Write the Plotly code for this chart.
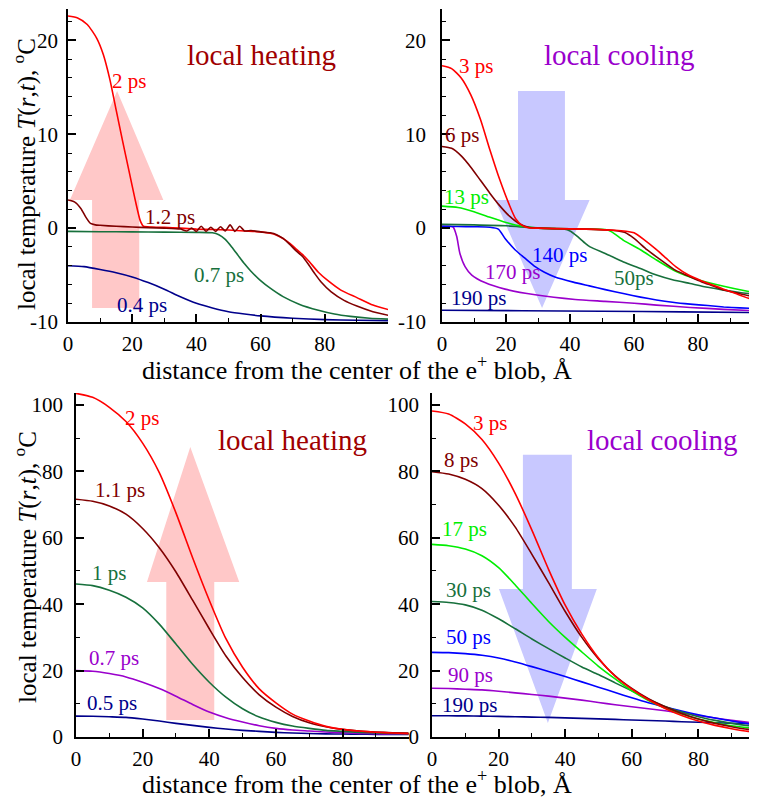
import plotly.graph_objects as go

# ---------------- data: top-left (local heating, early times) ----------------
TL_2PS_X = [0, 3, 6, 9, 11, 13, 15, 17, 19, 21, 22.5, 23.5, 26, 30, 35, 40, 45, 50, 55, 60, 63, 65, 67, 69, 71, 73, 75, 78, 81, 85, 90, 95, 100]
TL_2PS_Y = [22.6, 22.4, 21.7, 20.2, 18.5, 15.9, 12.6, 9.3, 6.1, 2.9, 0.8, 0.2, 0.12, 0.08, 0.0, -0.1, -0.15, -0.2, -0.3, -0.4, -0.55, -0.75, -1.1, -1.6, -2.2, -2.8, -3.5, -4.7, -5.6, -6.6, -7.4, -8.2, -8.7]
TL_12PS_X = [0, 2, 4, 5.5, 7, 8.5, 10, 15, 20, 25, 30, 35, 37, 38.5, 40, 41.5, 43, 44.5, 46, 47.5, 49, 50.5, 52, 53.5, 55, 57, 60, 63, 65, 67, 69, 71, 73, 75, 77, 79, 82, 86, 90, 95, 100]
TL_12PS_Y = [3.0, 2.8, 2.1, 1.2, 0.5, 0.35, 0.3, 0.2, 0.12, 0.05, 0.0, -0.1, -0.3, 0.0, -0.35, 0.2, -0.35, 0.1, -0.35, 0.15, -0.3, 0.35, -0.35, 0.2, -0.3, -0.25, -0.4, -0.5, -0.7, -1.1, -1.7, -2.4, -3.0, -3.9, -4.9, -5.8, -6.8, -7.7, -8.3, -8.9, -9.3]
TL_07PS_X = [0, 10, 20, 30, 40, 45, 47, 49, 51, 53, 55, 57, 60, 63, 67, 72, 78, 83, 88, 94, 100]
TL_07PS_Y = [-0.35, -0.38, -0.4, -0.42, -0.45, -0.5, -0.7, -1.2, -2.0, -2.9, -3.8, -4.6, -5.6, -6.4, -7.3, -8.1, -8.75, -9.15, -9.4, -9.6, -9.7]
TL_04PS_X = [0, 5, 10, 15, 20, 25, 30, 35, 40, 45, 50, 55, 60, 70, 80, 90, 100]
TL_04PS_Y = [-4.0, -4.1, -4.4, -4.75, -5.2, -5.8, -6.5, -7.3, -8.0, -8.5, -8.9, -9.15, -9.35, -9.6, -9.75, -9.82, -9.85]

# ---------------- data: top-right (local cooling, early times) ----------------
TR_3PS_X = [0, 3, 6, 9, 12, 15, 18, 21, 23, 25, 27, 30, 35, 45, 55, 58, 60, 63, 67, 70, 73, 77, 81, 85, 88, 92, 96, 100]
TR_3PS_Y = [17.3, 17.0, 16.0, 14.2, 11.6, 8.3, 5.2, 2.5, 1.0, 0.3, 0.05, 0.0, -0.05, -0.1, -0.25, -0.35, -0.5, -1.2, -2.3, -3.2, -4.1, -5.0, -5.6, -6.1, -6.5, -7.0, -7.5, -7.9]
TR_6PS_X = [0, 3, 6, 9, 12, 15, 18, 21, 24, 27, 30, 35, 45, 52, 55, 57, 60, 64, 68, 73, 77, 81, 85, 88, 92, 96, 100]
TR_6PS_Y = [8.7, 8.5, 7.7, 6.5, 5.1, 3.7, 2.4, 1.3, 0.5, 0.1, 0.0, -0.05, -0.1, -0.2, -0.3, -0.45, -1.1, -2.3, -3.3, -4.5, -5.1, -5.7, -6.2, -6.6, -6.9, -7.2, -7.4]
TR_13PS_X = [0, 5, 10, 15, 20, 25, 30, 35, 45, 51, 53, 56.7, 62, 67, 73, 80, 88, 95, 100]
TR_13PS_Y = [2.35, 2.2, 1.75, 1.15, 0.6, 0.2, 0.0, -0.05, -0.1, -0.15, -0.4, -1.3, -2.3, -3.4, -4.6, -5.5, -6.2, -6.7, -7.0]
TR_50PS_X = [0, 10, 20, 28, 35, 38, 40, 42, 44.7, 46.25, 51, 56.7, 62, 67, 72, 77.5, 83, 88, 93, 100]
TR_50PS_Y = [0.4, 0.35, 0.25, 0.05, -0.05, -0.1, -0.3, -0.8, -1.6, -2.0, -2.7, -3.6, -4.3, -5.0, -5.5, -5.9, -6.3, -6.6, -6.85, -7.1]
TR_140PS_X = [0, 5, 10, 15, 17.6, 19.7, 22.8, 25.9, 29.1, 32, 35.3, 41, 46, 51, 57, 62, 67, 72, 77.5, 83, 88, 93, 100]
TR_140PS_Y = [0.2, 0.18, 0.15, 0.1, -0.1, -1.1, -2.3, -3.2, -4.1, -4.7, -5.2, -5.75, -6.15, -6.55, -7.0, -7.35, -7.65, -7.9, -8.1, -8.25, -8.4, -8.5, -8.6]
TR_170PS_X = [0, 2, 3.5, 4.6, 5.6, 7.2, 9.3, 13.4, 19.7, 29.1, 41.6, 50.9, 60, 67, 77.5, 87.9, 100]
TR_170PS_Y = [0.2, 0.2, 0.1, -0.9, -2.7, -4.1, -5.0, -5.8, -6.5, -7.1, -7.6, -7.8, -8.0, -8.2, -8.45, -8.65, -8.85]
TR_190PS_X = [0, 25, 50, 75, 100]
TR_190PS_Y = [-8.75, -8.8, -8.85, -8.92, -9.0]

# ---------------- data: bottom panels (common distance grid) ----------------
BX = [0, 5, 10, 15, 20, 25, 30, 35, 40, 45, 50, 55, 60, 65, 70, 75, 80, 85, 90, 95, 100]
BL_2PS = [103.5, 102.3, 99.3, 95.0, 88.5, 79.6, 67.5, 54.0, 41.2, 29.6, 21.0, 14.5, 10.3, 6.9, 4.8, 3.2, 2.3, 1.8, 1.45, 1.2, 1.0]
BL_11PS = [71.6, 71.0, 69.6, 67.1, 62.8, 57.0, 49.7, 41.2, 32.6, 24.4, 17.9, 12.7, 9.0, 6.2, 4.3, 3.1, 2.3, 1.8, 1.5, 1.3, 1.2]
BL_1PS = [46.1, 45.6, 44.2, 42.1, 38.9, 34.0, 28.0, 21.9, 16.5, 12.0, 8.5, 6.0, 4.4, 3.3, 2.6, 2.0, 1.7, 1.4, 1.2, 1.1, 1.0]
BL_07PS = [20.0, 19.8, 19.1, 18.1, 16.5, 14.6, 12.3, 9.8, 7.5, 5.8, 4.5, 3.4, 2.6, 2.1, 1.8, 1.5, 1.3, 1.1, 1.0, 0.9, 0.9]
BL_05PS = [6.3, 6.25, 6.1, 5.9, 5.4, 4.8, 4.1, 3.5, 2.9, 2.4, 2.0, 1.7, 1.4, 1.2, 1.05, 0.95, 0.9, 0.85, 0.8, 0.8, 0.8]

BR_3PS = [98.2, 97.3, 94.3, 89.6, 82.5, 73.3, 62.3, 50.5, 39.7, 31.0, 23.8, 18.3, 14.4, 11.2, 8.6, 6.5, 4.8, 3.5, 2.5, 1.7, 1.3]
BR_8PS = [79.9, 79.2, 77.6, 74.8, 69.8, 63.2, 55.0, 46.5, 37.8, 30.0, 23.5, 18.4, 14.6, 11.5, 9.1, 7.1, 5.4, 4.1, 3.1, 2.3, 1.9]
BR_17PS = [58.0, 57.6, 56.6, 54.6, 51.0, 45.8, 40.2, 34.8, 30.0, 25.6, 21.3, 17.5, 13.9, 11.0, 8.7, 6.9, 5.4, 4.3, 3.4, 2.8, 2.4]
BR_30PS = [40.8, 40.5, 39.8, 38.2, 35.6, 32.6, 29.5, 26.6, 23.8, 21.1, 18.8, 16.3, 13.9, 11.4, 9.2, 7.5, 6.1, 5.0, 4.1, 3.4, 2.9]
BR_50PS = [25.5, 25.4, 25.1, 24.6, 23.8, 22.6, 21.2, 19.7, 18.2, 16.6, 15.0, 13.4, 11.8, 10.3, 9.0, 7.8, 6.7, 5.7, 4.8, 4.0, 3.5]
BR_90PS = [14.7, 14.6, 14.4, 14.2, 13.8, 13.3, 12.8, 12.3, 11.7, 11.1, 10.4, 9.7, 9.1, 8.5, 7.9, 7.2, 6.5, 5.7, 5.0, 4.4, 3.9]
BR_190PS = [6.4, 6.4, 6.35, 6.3, 6.2, 6.1, 6.0, 5.9, 5.75, 5.6, 5.45, 5.3, 5.1, 4.95, 4.8, 4.6, 4.45, 4.3, 4.15, 4.0, 3.9]

# tick labels of the upper panels' temperature axis (plain hyphen minus)
TOP_YTICKS = [-10, 0, 10, 20]
TOP_YTICKTEXT = ["-10", "0", "10", "20"]

# colours
RED = "#ff0000"
DRED = "#800000"
DGREEN = "#17703c"
LGREEN = "#00ee00"
NAVY = "#00008b"
BLUE = "#0000ff"
PURPLE = "#9a00cc"
HEAT = "#a00000"
PINK = "#ffc8c8"
LBLUE = "#c8c8ff"
FONT = "Liberation Serif"

fig = go.Figure()


def line(xs, ys, color, xa, ya):
    fig.add_trace(go.Scatter(x=xs, y=ys, mode="lines", xaxis=xa, yaxis=ya,
                             line=dict(color=color, width=1.6, shape="spline", smoothing=0.6),
                             showlegend=False, hoverinfo="skip"))


# top-left
line(TL_04PS_X, TL_04PS_Y, NAVY, "x", "y")
line(TL_07PS_X, TL_07PS_Y, DGREEN, "x", "y")
line(TL_2PS_X, TL_2PS_Y, RED, "x", "y")
line(TL_12PS_X, TL_12PS_Y, DRED, "x", "y")
# top-right
line(TR_190PS_X, TR_190PS_Y, NAVY, "x2", "y2")
line(TR_170PS_X, TR_170PS_Y, PURPLE, "x2", "y2")
line(TR_140PS_X, TR_140PS_Y, BLUE, "x2", "y2")
line(TR_50PS_X, TR_50PS_Y, DGREEN, "x2", "y2")
line(TR_13PS_X, TR_13PS_Y, LGREEN, "x2", "y2")
line(TR_6PS_X, TR_6PS_Y, DRED, "x2", "y2")
line(TR_3PS_X, TR_3PS_Y, RED, "x2", "y2")
# bottom-left
line(BX, BL_05PS, NAVY, "x3", "y3")
line(BX, BL_07PS, PURPLE, "x3", "y3")
line(BX, BL_1PS, DGREEN, "x3", "y3")
line(BX, BL_11PS, DRED, "x3", "y3")
line(BX, BL_2PS, RED, "x3", "y3")
# bottom-right
line(BX, BR_190PS, NAVY, "x4", "y4")
line(BX, BR_90PS, PURPLE, "x4", "y4")
line(BX, BR_50PS, BLUE, "x4", "y4")
line(BX, BR_30PS, DGREEN, "x4", "y4")
line(BX, BR_17PS, LGREEN, "x4", "y4")
line(BX, BR_8PS, DRED, "x4", "y4")
line(BX, BR_3PS, RED, "x4", "y4")

# the page body adds an 8px margin, so the figure is 8px smaller and shifted
OFF = 8
W, H = 757 - OFF, 803 - OFF


def fx(px):
    return (px - OFF) / W


def fy(py):
    return 1 - (py - OFF) / H


def xax(p0, p1, rng, anchor):
    return dict(domain=[fx(p0), min(1.0, fx(p1))], range=rng, anchor=anchor, automargin=False, showline=True,
                linecolor="black", linewidth=1.5, ticks="inside", ticklen=8, tickwidth=1.5,
                tickcolor="black", tick0=0, dtick=20, showgrid=False, zeroline=False,
                minor=dict(ticks="inside", ticklen=4, tickwidth=1.2, tickcolor="black", tick0=0, dtick=10),
                tickfont=dict(family=FONT, size=21, color="black"), ticklabelstandoff=2)


def yax(top_px, bot_px, rng, anchor, major, minor, standoff, top=False):
    d = dict(domain=[fy(bot_px), min(1.0, fy(top_px))], range=rng, anchor=anchor, automargin=False,
             showline=True, linecolor="black", linewidth=1.5, ticks="inside", ticklen=8, tickwidth=1.5,
             tickcolor="black", tick0=0, dtick=major, showgrid=False, zeroline=False,
             minor=dict(ticks="inside", ticklen=4, tickwidth=1.2, tickcolor="black", tick0=0, dtick=minor),
             tickfont=dict(family=FONT, size=21, color="black"), ticklabelstandoff=standoff)
    if top:
        d.update(tickmode="array", tickvals=TOP_YTICKS, ticktext=TOP_YTICKTEXT)
    return d


fig.update_layout(
    width=W, height=H, margin=dict(l=0, r=0, t=0, b=0, autoexpand=False),
    paper_bgcolor="white", plot_bgcolor="white",
    xaxis=xax(68, 388, [0, 99.7], "y"),
    yaxis=yax(8.5, 322, [-10, 23.4], "x", 10, 2, 4, top=True),
    xaxis2=xax(442, 757, [0, 98.4], "y2"),
    yaxis2=yax(8.5, 322, [-10, 23.4], "x2", 10, 2, 10, top=True),
    xaxis3=xax(76, 408.5, [0, 99.8], "y3"),
    yaxis3=yax(393, 737, [0, 103.6], "x3", 20, 10, 7),
    xaxis4=xax(432, 757, [0, 97.6], "y4"),
    yaxis4=yax(393, 737, [0, 103.6], "x4", 20, 10, 7),
)


# decorative arrows (data coordinates of each panel)
def block_arrow(xr, yr, sx0, sx1, yend, hx0, hx1, ybase, tipx, tipy, color):
    path = (f"M {sx0} {yend} L {sx0} {ybase} L {hx0} {ybase} L {tipx} {tipy} "
            f"L {hx1} {ybase} L {sx1} {ybase} L {sx1} {yend} Z")
    fig.add_shape(type="path", path=path, xref=xr, yref=yr, fillcolor=color,
                  line=dict(width=0), layer="below")


block_arrow("x", "y", 7.5, 22.2, -8.5, 0.6, 29.7, 3.0, 15.3, 14.6, PINK)
block_arrow("x2", "y2", 23.75, 38.4, 14.6, 16.6, 46.1, 3.0, 31.25, -8.5, LBLUE)
block_arrow("x3", "y3", 27.1, 41.5, 5.1, 21.3, 49.0, 46.7, 34.3, 87.3, PINK)
block_arrow("x4", "y4", 27.3, 42.0, 85.0, 20.1, 49.5, 44.6, 34.8, 4.2, LBLUE)


def label(text, x, y, color, xr, yr, size=21):
    fig.add_annotation(text=text, x=x, y=y, xref=xr, yref=yr, showarrow=False,
                       font=dict(family=FONT, size=size, color=color), xanchor="center", yanchor="middle")


label("local heating", 60.3, 18.4, HEAT, "x", "y", 29)
label("2 ps", 19.1, 15.7, RED, "x", "y")
label("1.2 ps", 31.9, 1.17, DRED, "x", "y")
label("0.7 ps", 46.9, -5.0, DGREEN, "x", "y")
label("0.4 ps", 23.1, -8.2, NAVY, "x", "y")

label("local cooling", 55.3, 18.4, PURPLE, "x2", "y2", 29)
label("3 ps", 10.6, 17.3, RED, "x2", "y2")
label("6 ps", 6.25, 9.9, DRED, "x2", "y2")
label("13 ps", 7.8, 3.3, LGREEN, "x2", "y2")
label("140 ps", 36.6, -2.9, BLUE, "x2", "y2")
label("170 ps", 21.9, -4.7, PURPLE, "x2", "y2")
label("50ps", 60.0, -5.3, DGREEN, "x2", "y2")
label("190 ps", 11.25, -7.45, NAVY, "x2", "y2")

label("local heating", 65.0, 89.5, HEAT, "x3", "y3", 29)
label("2 ps", 19.8, 96.1, RED, "x3", "y3")
label("1.1 ps", 13.2, 74.4, DRED, "x3", "y3")
label("1 ps", 9.9, 49.4, DGREEN, "x3", "y3")
label("0.7 ps", 11.4, 23.8, PURPLE, "x3", "y3")
label("0.5 ps", 10.8, 10.2, NAVY, "x3", "y3")

label("local cooling", 69.1, 89.5, PURPLE, "x4", "y4", 29)
label("3 ps", 17.4, 94.6, RED, "x4", "y4")
label("8 ps", 8.7, 83.4, DRED, "x4", "y4")
label("17 ps", 9.9, 62.7, LGREEN, "x4", "y4")
label("30 ps", 11.1, 44.3, DGREEN, "x4", "y4")
label("50 ps", 11.1, 30.1, BLUE, "x4", "y4")
label("90 ps", 11.7, 18.7, PURPLE, "x4", "y4")
label("190 ps", 11.4, 9.6, NAVY, "x4", "y4")

XTITLE = "distance from the center of the e<sup>+</sup> blob, Å"
YTITLE = "local temperature <i>T</i>(<i>r</i>,<i>t</i>), <sup>o</sup>C"
for yc in (368, 782):
    fig.add_annotation(text=XTITLE, x=fx(357), y=fy(yc), xref="paper", yref="paper",
                       showarrow=False, font=dict(family=FONT, size=26, color="black"),
                       xanchor="center", yanchor="middle")
for yc in (174, 567):
    fig.add_annotation(text=YTITLE, x=fx(25), y=fy(yc), xref="paper", yref="paper",
                       showarrow=False, textangle=-90, font=dict(family=FONT, size=25, color="black"),
                       xanchor="center", yanchor="middle")

fig.write_html("out.html")
